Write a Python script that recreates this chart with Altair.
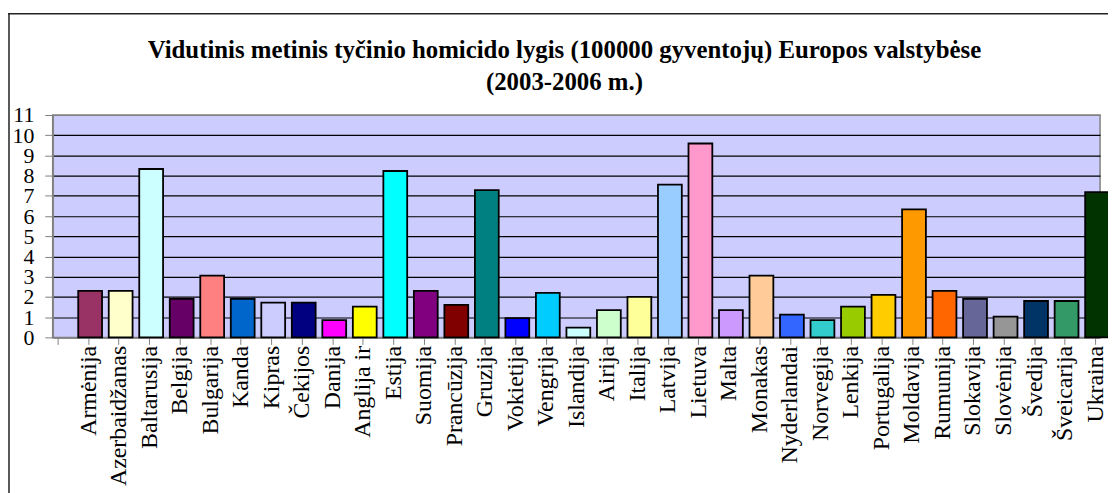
import json
import altair as alt
import pandas as pd

names = ["Armėnija", "Azerbaidžanas", "Baltarusija", "Belgija", "Bulgarija", "Kanda",
         "Kipras", "Čekijos", "Danija", "Anglija ir", "Estija", "Suomija", "Prancūzija",
         "Gruzija", "Vokietija", "Vengrija", "Islandija", "Airija", "Italija", "Latvija",
         "Lietuva", "Malta", "Monakas", "Nyderlandai", "Norvegija", "Lenkija",
         "Portugalija", "Moldavija", "Rumunija", "Slokavija", "Slovėnija", "Švedija",
         "Šveicarija", "Ukraina"]
values = [2.3, 2.3, 8.33, 1.9, 3.05, 1.9, 1.72, 1.72, 0.85, 1.52, 8.23, 2.3, 1.61,
          7.28, 0.95, 2.2, 0.48, 1.35, 2.0, 7.56, 9.59, 1.35, 3.05, 1.13, 0.85, 1.52,
          2.1, 6.33, 2.3, 1.9, 1.03, 1.8, 1.8, 7.18]
colors = ["#993366", "#FFFFCC", "#CCFFFF", "#660066", "#FF8080", "#0066CC", "#CCCCFF",
          "#000080", "#FF00FF", "#FFFF00", "#00FFFF", "#800080", "#800000", "#008080",
          "#0000FF", "#00CCFF", "#CCFFFF", "#CCFFCC", "#FFFF99", "#99CCFF", "#FF99CC",
          "#CC99FF", "#FFCC99", "#3366FF", "#33CCCC", "#99CC00", "#FFCC00", "#FF9900",
          "#FF6600", "#666699", "#969696", "#003366", "#339966", "#003300"]
y_ticks = list(range(0, 12))
title_lines = ["Vidutinis metinis tyčinio homicido lygis (100000 gyventojų) Europos valstybėse",
               "(2003-2006 m.)"]

n = len(names)
df = pd.DataFrame({"idx": list(range(1, n + 1)), "name": names, "value": values, "color": colors})

FONT = "Liberation Serif"
label_expr = json.dumps([""] + names) + "[datum.value]"

bars = alt.Chart(df).mark_bar(width=24, stroke="black", strokeWidth=1.8, xOffset=2).encode(
    x=alt.X("idx:Q",
            scale=alt.Scale(domain=[0, n], nice=False, zero=False),
            axis=alt.Axis(values=list(range(0, n + 1)), labelExpr=label_expr, labelAngle=-90,
                          labelFont=FONT, labelFontSize=24, labelColor="black",
                          labelPadding=1, tickSize=7, tickColor="#808080", tickWidth=1,
                          domainColor="#808080", domainWidth=1.5, grid=False, title=None,
                          labelOverlap=False, labelFlush=False, labelBound=False)),
    y=alt.Y("value:Q",
            scale=alt.Scale(domain=[0, 11], nice=False),
            axis=alt.Axis(values=y_ticks, grid=True,
                          gridColor=alt.condition("datum.value == 11 || datum.value == 0",
                                                  alt.value("#808080"), alt.value("#000000")),
                          gridWidth=1.2, labelFont=FONT, labelFontSize=22, labelColor="black",
                          labelPadding=11, tickSize=8, tickColor="#808080",
                          labelOverlap=False, labelFlush=False, labelBound=False,
                          domainColor="#808080", domainWidth=1.5, title=None)),
    color=alt.Color("color:N", scale=None, legend=None),
)

frame_df = pd.DataFrame({"a": [0]})
top_line = alt.Chart(frame_df).mark_rule(color="#222222", strokeWidth=1.5).encode(
    x=alt.value(-45), x2=alt.value(1070), y=alt.value(-102))
left_line = alt.Chart(frame_df).mark_rule(color="#222222", strokeWidth=1.5).encode(
    x=alt.value(-44), y=alt.value(-102), y2=alt.value(440))

chart = alt.layer(bars, top_line, left_line).properties(
    width=1055, height=224,
    title=alt.TitleParams(text=title_lines, font=FONT, fontSize=25, fontWeight="bold",
                          color="black", anchor="middle", frame="group", baseline="alphabetic",
                          offset=-102.75, lineHeight=32, dx=-12),
    autosize=alt.AutoSizeParams(type="none"),
    padding={"left": 45, "top": 106, "right": 8, "bottom": 160},
).configure_view(fill="#CCCCFF", stroke="#808080", strokeWidth=1.5)

chart.save("out.html", embed_options={"renderer": "svg", "actions": False})
